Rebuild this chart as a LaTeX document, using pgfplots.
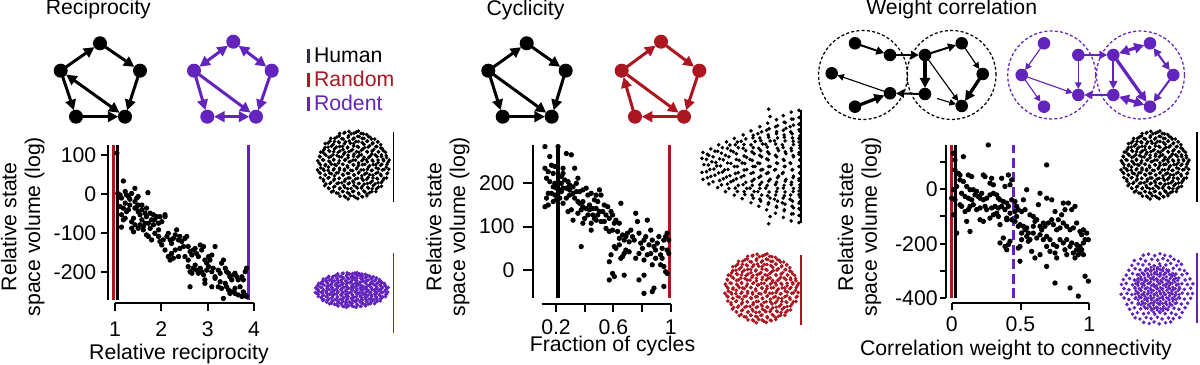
\documentclass[border=0pt]{standalone}
\usepackage{fontspec}
\setmainfont{Liberation Sans}
\usepackage{pgfplots}
\usepackage{pgfplotstable}
\pgfplotsset{compat=1.18}
\usetikzlibrary{arrows.meta}
\definecolor{myred}{RGB}{172,22,32}
\definecolor{mypurple}{RGB}{98,36,188}
\definecolor{humangray}{RGB}{50,52,62}

\pgfplotstableread[row sep=\\]{
x y\\
-0.37 0.90\\ -0.23 0.93\\ -0.06 0.89\\ 0.08 0.94\\ 0.21 0.90\\ 0.36 0.87\\
-0.61 0.76\\ -0.44 0.80\\ -0.31 0.75\\ -0.14 0.79\\ 0.02 0.77\\ 0.16 0.81\\ 0.29 0.76\\ 0.46 0.79\\ 0.58 0.74\\
-0.68 0.63\\ -0.51 0.67\\ -0.38 0.64\\ -0.21 0.66\\ -0.08 0.62\\ 0.07 0.67\\ 0.24 0.64\\ 0.37 0.68\\ 0.53 0.63\\ 0.66 0.66\\
-0.76 0.50\\ -0.59 0.54\\ -0.46 0.51\\ -0.29 0.53\\ -0.16 0.49\\ 0.01 0.54\\ 0.14 0.51\\ 0.31 0.50\\ 0.44 0.55\\ 0.61 0.52\\ 0.74 0.49\\
-0.83 0.37\\ -0.66 0.41\\ -0.53 0.38\\ -0.36 0.40\\ -0.23 0.36\\ -0.06 0.41\\ 0.09 0.38\\ 0.22 0.42\\ 0.38 0.37\\ 0.51 0.40\\ 0.68 0.38\\ 0.81 0.41\\
-0.91 0.25\\ -0.74 0.28\\ -0.61 0.24\\ -0.44 0.27\\ -0.31 0.23\\ -0.14 0.28\\ 0.01 0.25\\ 0.16 0.27\\ 0.29 0.22\\ 0.46 0.26\\ 0.59 0.29\\ 0.76 0.24\\ 0.89 0.27\\
-0.96 0.12\\ -0.83 0.15\\ -0.66 0.11\\ -0.53 0.14\\ -0.38 0.12\\ -0.21 0.15\\ -0.08 0.10\\ 0.06 0.14\\ 0.23 0.12\\ 0.36 0.15\\ 0.53 0.11\\ 0.67 0.14\\ 0.82 0.12\\ 0.97 0.14\\
-0.89 0.01\\ -0.76 -0.02\\ -0.59 0.02\\ -0.46 -0.01\\ -0.29 0.02\\ -0.16 -0.02\\ 0.00 0.01\\ 0.14 -0.01\\ 0.31 0.02\\ 0.44 -0.02\\ 0.61 0.01\\ 0.74 -0.01\\ 0.91 0.02\\
-0.97 -0.14\\ -0.81 -0.12\\ -0.68 -0.15\\ -0.52 -0.11\\ -0.37 -0.14\\ -0.24 -0.12\\ -0.07 -0.15\\ 0.09 -0.11\\ 0.21 -0.14\\ 0.38 -0.12\\ 0.51 -0.15\\ 0.68 -0.11\\ 0.83 -0.13\\ 0.96 -0.12\\
-0.89 -0.24\\ -0.76 -0.28\\ -0.59 -0.25\\ -0.46 -0.23\\ -0.29 -0.27\\ -0.16 -0.24\\ 0.02 -0.28\\ 0.14 -0.23\\ 0.31 -0.26\\ 0.44 -0.28\\ 0.61 -0.24\\ 0.74 -0.27\\ 0.91 -0.25\\
-0.81 -0.41\\ -0.68 -0.37\\ -0.51 -0.40\\ -0.38 -0.38\\ -0.22 -0.41\\ -0.09 -0.37\\ 0.06 -0.40\\ 0.23 -0.38\\ 0.36 -0.41\\ 0.53 -0.37\\ 0.66 -0.40\\ 0.83 -0.38\\
-0.74 -0.54\\ -0.61 -0.50\\ -0.44 -0.53\\ -0.31 -0.51\\ -0.14 -0.54\\ 0.01 -0.50\\ 0.16 -0.53\\ 0.29 -0.55\\ 0.46 -0.51\\ 0.59 -0.54\\ 0.76 -0.50\\
-0.66 -0.67\\ -0.53 -0.63\\ -0.36 -0.66\\ -0.23 -0.64\\ -0.06 -0.67\\ 0.08 -0.63\\ 0.22 -0.66\\ 0.39 -0.64\\ 0.51 -0.68\\ 0.68 -0.63\\
-0.59 -0.77\\ -0.46 -0.80\\ -0.29 -0.76\\ -0.16 -0.79\\ 0.01 -0.75\\ 0.14 -0.80\\ 0.31 -0.77\\ 0.44 -0.79\\ 0.61 -0.76\\
-0.36 -0.89\\ -0.21 -0.92\\ -0.08 -0.88\\ 0.06 -0.93\\ 0.23 -0.90\\ 0.37 -0.88\\
}\circtab

\pgfplotstableread[row sep=\\]{
x y\\
0.01 -0.22\\ 0.00 -0.10\\ 0.02 0.03\\ 0.00 0.14\\ 0.01 0.24\\
0.07 -0.30\\ 0.09 -0.17\\ 0.08 -0.05\\ 0.10 0.08\\ 0.07 0.19\\ 0.09 0.30\\
0.16 -0.36\\ 0.18 -0.24\\ 0.17 -0.11\\ 0.15 0.01\\ 0.18 0.13\\ 0.16 0.26\\ 0.17 0.37\\
0.24 -0.43\\ 0.26 -0.30\\ 0.25 -0.18\\ 0.23 -0.06\\ 0.26 0.06\\ 0.24 0.19\\ 0.26 0.31\\ 0.25 0.42\\
0.33 -0.49\\ 0.34 -0.37\\ 0.32 -0.24\\ 0.34 -0.12\\ 0.33 0.00\\ 0.35 0.12\\ 0.32 0.25\\ 0.34 0.37\\ 0.33 0.48\\
0.41 -0.55\\ 0.43 -0.43\\ 0.42 -0.31\\ 0.40 -0.18\\ 0.43 -0.06\\ 0.41 0.06\\ 0.43 0.18\\ 0.42 0.31\\ 0.40 0.43\\ 0.42 0.54\\
0.50 -0.62\\ 0.51 -0.49\\ 0.49 -0.37\\ 0.51 -0.25\\ 0.50 -0.12\\ 0.52 0.00\\ 0.49 0.12\\ 0.51 0.25\\ 0.50 0.37\\ 0.52 0.49\\ 0.50 0.61\\
0.58 -0.68\\ 0.59 -0.56\\ 0.57 -0.43\\ 0.59 -0.31\\ 0.58 -0.19\\ 0.60 -0.06\\ 0.57 0.06\\ 0.59 0.19\\ 0.58 0.31\\ 0.60 0.44\\ 0.57 0.56\\ 0.59 0.68\\
0.66 -0.74\\ 0.68 -0.62\\ 0.67 -0.50\\ 0.65 -0.37\\ 0.68 -0.25\\ 0.66 -0.12\\ 0.68 0.00\\ 0.66 0.13\\ 0.67 0.25\\ 0.65 0.38\\ 0.68 0.50\\ 0.66 0.62\\ 0.67 0.74\\
0.75 -0.80\\ 0.76 -0.68\\ 0.74 -0.56\\ 0.76 -0.43\\ 0.75 -0.31\\ 0.77 -0.19\\ 0.74 -0.06\\ 0.76 0.06\\ 0.75 0.19\\ 0.77 0.31\\ 0.74 0.44\\ 0.76 0.56\\ 0.75 0.68\\ 0.76 0.80\\
0.83 -0.87\\ 0.84 -0.74\\ 0.82 -0.62\\ 0.84 -0.50\\ 0.83 -0.37\\ 0.85 -0.25\\ 0.82 -0.12\\ 0.84 0.00\\ 0.83 0.12\\ 0.85 0.25\\ 0.82 0.37\\ 0.84 0.50\\ 0.83 0.62\\ 0.85 0.75\\ 0.83 0.87\\
0.91 -0.93\\ 0.93 -0.81\\ 0.92 -0.68\\ 0.90 -0.56\\ 0.93 -0.43\\ 0.91 -0.31\\ 0.93 -0.19\\ 0.92 -0.06\\ 0.90 0.06\\ 0.93 0.19\\ 0.91 0.31\\ 0.93 0.43\\ 0.92 0.56\\ 0.90 0.68\\ 0.93 0.81\\ 0.91 0.93\\
0.99 -0.96\\ 1.00 -0.84\\ 0.99 -0.72\\ 1.00 -0.60\\ 0.99 -0.48\\ 1.00 -0.36\\ 0.99 -0.24\\ 1.00 -0.12\\ 0.99 0.00\\ 1.00 0.12\\ 0.99 0.24\\ 1.00 0.36\\ 0.99 0.48\\ 1.00 0.60\\ 0.99 0.72\\ 1.00 0.84\\ 0.99 0.96\\
0.68 0.98\\ 0.68 -0.98\\
}\fantab

\tikzset{
 ar/.style={-{Triangle[length=4.2pt,width=4.2pt]}, line width=1.2pt, shorten >=2.7pt, shorten <=2.7pt},
 dar/.style={{Triangle[length=4.2pt,width=4.2pt]}-{Triangle[length=4.2pt,width=4.2pt]}, line width=1.2pt, shorten >=2.7pt, shorten <=2.7pt},
 tn/.style={-{Triangle[length=2.6pt,width=2.6pt]}, line width=0.45pt, shorten >=2.4pt, shorten <=2.4pt},
 md/.style={-{Triangle[length=3.2pt,width=3.2pt]}, line width=0.8pt, shorten >=2.4pt, shorten <=2.4pt},
 tk/.style={-{Triangle[length=4pt,width=4pt]}, line width=1.3pt, shorten >=2.4pt, shorten <=2.4pt},
 dmd/.style={{Triangle[length=3.2pt,width=3.2pt]}-{Triangle[length=3.2pt,width=3.2pt]}, line width=0.8pt, shorten >=2.4pt, shorten <=2.4pt},
 dtk/.style={{Triangle[length=4pt,width=4pt]}-{Triangle[length=4pt,width=4pt]}, line width=1.3pt, shorten >=2.4pt, shorten <=2.4pt},
}

\begin{document}
\begin{tikzpicture}[font=\fontsize{8.5}{10}\selectfont]
\useasboundingbox (0,0) rectangle (480pt,-146pt);
\pgfplotsset{
 mainax/.style={scale only axis, anchor=north west, axis x line=none, axis y line=left, clip=false, tick align=outside,
   y axis line style={-, line width=0.8pt}, ytick style={line width=0.8pt, black},
   yticklabel style={anchor=east, inner sep=0pt}, /pgf/number format/assume math mode=true,
   ylabel style={align=center, anchor=south, inner sep=0pt, font=\fontsize{8.5}{9.5}\selectfont}},
 xax/.style={scale only axis, anchor=south west, axis x line=bottom, axis y line=none, height=1pt, ymin=0, ymax=1, tick align=outside,
   x axis line style={-, line width=0.8pt}, xtick style={line width=0.8pt, black},
   xticklabel style={anchor=base, inner sep=0pt}, /pgf/number format/assume math mode=true,
   xlabel style={anchor=base, inner sep=0pt}},
 blob/.style={scale only axis, anchor=center, axis lines=none, clip=false, xmin=-1, xmax=1, ymin=-1, ymax=1},
 sc/.style={only marks, mark=*, mark size=0.85pt, black},
 bd/.style={only marks, mark=*, mark size=0.5pt},
}

% ---------- overlay: titles, legend, networks, bars ----------
\begin{axis}[at={(0pt,0pt)}, anchor=north west, scale only axis, width=480pt, height=146pt,
  xmin=0, xmax=1200, ymin=0, ymax=365, y dir=reverse, axis lines=none, clip=false]
\node[anchor=base, inner sep=0pt] at (axis cs:98.3,15) {Reciprocity};
\node[anchor=base, inner sep=0pt] at (axis cs:525.5,16) {Cyclicity};
\node[anchor=base, inner sep=0pt] at (axis cs:951.7,15) {Weight correlation};
% legend
\draw[humangray, line width=1.2pt] (axis cs:308,49) -- (axis cs:308,62.7);
\draw[myred, line width=1.2pt] (axis cs:308,73) -- (axis cs:308,86.7);
\draw[mypurple, line width=1.2pt] (axis cs:308,97.3) -- (axis cs:308,111);
\node[anchor=base west, inner sep=0pt] at (axis cs:313.5,62.7) {Human};
\node[anchor=base west, inner sep=0pt, text=myred] at (axis cs:313.5,86.7) {Random};
\node[anchor=base west, inner sep=0pt, text=mypurple] at (axis cs:313.5,111) {Rodent};
% side bars
\draw[black, line width=0.6pt] (axis cs:393.3,131.7) -- (axis cs:393.3,201.7);
\draw[mypurple, line width=0.6pt] (axis cs:393.3,253) -- (axis cs:393.3,333);
\draw[black, line width=0.6pt] (axis cs:801,110) -- (axis cs:801,223);
\draw[myred, line width=0.6pt] (axis cs:801,255) -- (axis cs:801,325);
\draw[black, line width=0.6pt] (axis cs:1197,131.7) -- (axis cs:1197,201.7);
\draw[mypurple, line width=0.6pt] (axis cs:1197,253) -- (axis cs:1197,323);
% panel 1 black pentagon
\draw[ar] (axis cs:60.7,70.7) -- (axis cs:100,43.3);
\draw[ar] (axis cs:100,43.3) -- (axis cs:140,70.7);
\draw[ar] (axis cs:140,70.7) -- (axis cs:125,116.7);
\draw[ar] (axis cs:60.7,70.7) -- (axis cs:76,116.7);
\draw[ar] (axis cs:76,116.7) -- (axis cs:125,116.7);
\draw[dar] (axis cs:60.7,70.7) -- (axis cs:125,116.7);
\addplot[only marks, mark=*, mark size=2.6pt, black] coordinates {(100,43.3) (140,70.7) (125,116.7) (76,116.7) (60.7,70.7)};
% panel 1 purple pentagon
\draw[dar, mypurple] (axis cs:233.3,41.7) -- (axis cs:194,70.7);
\draw[dar, mypurple] (axis cs:233.3,41.7) -- (axis cs:271.7,70.7);
\draw[ar, mypurple] (axis cs:194,70.7) -- (axis cs:207.3,116.7);
\draw[ar, mypurple] (axis cs:194,70.7) -- (axis cs:256,116.7);
\draw[ar, mypurple] (axis cs:271.7,70.7) -- (axis cs:256,116.7);
\draw[dar, mypurple] (axis cs:207.3,116.7) -- (axis cs:256,116.7);
\addplot[only marks, mark=*, mark size=2.6pt, mypurple] coordinates {(233.3,41.7) (271.7,70.7) (256,116.7) (207.3,116.7) (194,70.7)};
% panel 2 black pentagon
\draw[ar] (axis cs:488.3,70.7) -- (axis cs:526.7,43.3);
\draw[ar] (axis cs:526.7,43.3) -- (axis cs:565.7,70.7);
\draw[ar] (axis cs:565.7,70.7) -- (axis cs:551.7,116.7);
\draw[ar] (axis cs:488.3,70.7) -- (axis cs:502.7,116.7);
\draw[ar] (axis cs:502.7,116.7) -- (axis cs:551.7,116.7);
\draw[ar] (axis cs:488.3,70.7) -- (axis cs:551.7,116.7);
\addplot[only marks, mark=*, mark size=2.6pt, black] coordinates {(526.7,43.3) (565.7,70.7) (551.7,116.7) (502.7,116.7) (488.3,70.7)};
% panel 2 red pentagon
\draw[ar, myred] (axis cs:621.7,70.7) -- (axis cs:661,41.7);
\draw[ar, myred] (axis cs:661,41.7) -- (axis cs:699.3,70.7);
\draw[ar, myred] (axis cs:699.3,70.7) -- (axis cs:684,116.7);
\draw[ar, myred] (axis cs:684,116.7) -- (axis cs:635,116.7);
\draw[ar, myred] (axis cs:635,116.7) -- (axis cs:621.7,70.7);
\draw[ar, myred] (axis cs:621.7,70.7) -- (axis cs:684,116.7);
\addplot[only marks, mark=*, mark size=2.6pt, myred] coordinates {(661,41.7) (699.3,70.7) (684,116.7) (635,116.7) (621.7,70.7)};
% panel 3 black modules
\draw[black, line width=0.5pt, dash pattern=on 1.2pt off 0.9pt] (axis cs:863,75) circle[radius=17.8pt];
\draw[black, line width=0.5pt, dash pattern=on 1.2pt off 0.9pt] (axis cs:951.5,75) circle[radius=17.8pt];
\draw[md] (axis cs:855,43.3) -- (axis cs:890,55);
\draw[md] (axis cs:890,55) -- (axis cs:925,55);
\draw[md] (axis cs:925,55) -- (axis cs:961.7,43.3);
\draw[tn] (axis cs:961.7,43.3) -- (axis cs:982.7,74);
\draw[tk] (axis cs:982.7,74) -- (axis cs:961.7,106);
\draw[tk] (axis cs:925,55) -- (axis cs:925,94);
\draw[tn] (axis cs:925,55) -- (axis cs:961.7,106);
\draw[md] (axis cs:925,94) -- (axis cs:890,93.3);
\draw[tn] (axis cs:890,93.3) -- (axis cs:831.7,73.3);
\draw[tk] (axis cs:855,106.7) -- (axis cs:890,93.3);
\draw[tn, shorten <=0pt] (axis cs:937,98.5) -- (axis cs:961.7,106);
\addplot[only marks, mark=*, mark size=2.3pt, black] coordinates {(855,43.3) (890,55) (831.7,73.3) (890,93.3) (855,106.7) (925,55) (961.7,43.3) (982.7,74) (961.7,106) (925,94)};
% panel 3 purple modules
\draw[mypurple, line width=0.5pt, dash pattern=on 1.2pt off 0.9pt] (axis cs:1051.7,75) circle[radius=17.6pt];
\draw[mypurple, line width=0.5pt, dash pattern=on 1.2pt off 0.9pt] (axis cs:1140.5,75) circle[radius=17.6pt];
\draw[tn, mypurple] (axis cs:1044,43.3) -- (axis cs:1021.7,75);
\draw[md, mypurple] (axis cs:1078.3,55) -- (axis cs:1113.3,55);
\draw[tn, mypurple] (axis cs:1078.3,55) -- (axis cs:1078.3,95);
\draw[tn, mypurple] (axis cs:1021.7,75) -- (axis cs:1078.3,95);
\draw[tn, mypurple] (axis cs:1021.7,75) -- (axis cs:1044,106.7);
\draw[md, mypurple] (axis cs:1113.3,95) -- (axis cs:1078.3,95);
\draw[dtk, mypurple] (axis cs:1113.3,55) -- (axis cs:1150,43.3);
\draw[dmd, mypurple] (axis cs:1150,43.3) -- (axis cs:1173.3,75);
\draw[md, mypurple] (axis cs:1173.3,75) -- (axis cs:1150,106.7);
\draw[md, mypurple] (axis cs:1113.3,55) -- (axis cs:1113.3,95);
\draw[tk, mypurple] (axis cs:1113.3,55) -- (axis cs:1150,106.7);
\draw[dtk, mypurple] (axis cs:1113.3,95) -- (axis cs:1150,106.7);
\addplot[only marks, mark=*, mark size=2.3pt, mypurple] coordinates {(1044,43.3) (1078.3,55) (1021.7,75) (1078.3,95) (1044,106.7) (1113.3,55) (1150,43.3) (1173.3,75) (1150,106.7) (1113.3,95)};
\end{axis}

% ---------- blobs ----------
\begin{axis}[blob, at={(141.32pt,-66pt)}, width=29.6pt, height=28pt]
\addplot[bd, black] table {\circtab};
\addplot[bd, black] table[x=y, y=x] {\circtab};
\end{axis}
\begin{axis}[blob, at={(140.68pt,-116pt)}, width=30pt, height=14.4pt]
\addplot[bd, mypurple] table {\circtab};
\addplot[bd, mypurple] table[x=y, y=x] {\circtab};
\end{axis}
\begin{axis}[blob, anchor=north west, at={(280.8pt,-43.2pt)}, width=39.2pt, height=46.8pt, xmin=0, xmax=1]
\addplot[bd, black] table {\fantab};
\end{axis}
\begin{axis}[blob, anchor=north west, at={(282.6pt,-46.2pt)}, width=37.4pt, height=40.8pt, xmin=0, xmax=1]
\addplot[bd, black] table {\fantab};
\end{axis}
\begin{axis}[blob, at={(304.68pt,-115.32pt)}, width=30.4pt, height=28.4pt]
\addplot[bd, myred] table {\circtab};
\addplot[bd, myred] table[x=y, y=x] {\circtab};
\end{axis}
\begin{axis}[blob, at={(462pt,-66pt)}, width=28pt, height=28pt]
\addplot[bd, black] table {\circtab};
\addplot[bd, black] table[x=y, y=x] {\circtab};
\end{axis}
\begin{axis}[blob, at={(462.8pt,-115.6pt)}, width=29.6pt, height=30pt]
\addplot[bd, mypurple] table {\circtab};
\end{axis}
\begin{axis}[blob, at={(462.8pt,-115.6pt)}, width=19pt, height=19pt]
\addplot[only marks, mark=*, mark size=0.42pt, mypurple] table[x=y, y=x] {\circtab};
\end{axis}

% ---------- Panel 1: reciprocity ----------
\begin{axis}[mainax, at={(43.2pt,-58pt)}, width=58.4pt, height=62pt,
  xmin=0.849, xmax=4, ymin=-273, ymax=127,
  ytick={-200,-100,0,100}, yticklabels={-200,-100,0,100}, major tick length=2.7pt,
  yticklabel style={xshift=-1.8pt},
  ylabel={Relative state\\space volume (log)},
  ylabel style={at={(axis description cs:-0.4315,0.473)}}]
\addplot[myred, line width=1.3pt] coordinates {(0.96,-273) (0.96,127)};
\addplot[black, line width=1.3pt] coordinates {(1.05,-273) (1.05,127)};
\addplot[mypurple, line width=1.3pt] coordinates {(3.88,-273) (3.88,127)};
\addplot[sc] coordinates {
(1.04,106)(1.18,34)(1.06,2)(1.11,-2)(1.07,-8)(1.14,-10)(1.22,7)(1.25,-2)(1.29,-6)(1.32,-13)(1.36,2)(1.43,15)(1.47,-10)(1.50,-6)(1.71,4)(1.11,-32)(1.14,-53)(1.18,-66)(1.22,-62)(1.14,-85)(1.25,-45)(1.29,-40)(1.36,-71)(1.40,-62)(1.43,-36)(1.47,-32)(1.50,-45)(1.54,-53)(1.58,-28)(1.58,-66)(1.61,-84)(1.65,-75)(1.68,-36)(1.68,-58)(1.72,-75)(1.76,-88)(1.79,-66)(1.83,-79)(1.86,-66)(1.90,-58)(1.94,-75)(1.94,-92)(2.01,-71)(2.08,-53)(2.04,-118)(2.12,-109)(2.15,-101)(2.19,-118)(2.22,-127)(2.26,-114)(2.30,-105)(2.33,-92)(2.37,-118)(2.40,-109)(2.44,-122)(2.48,-135)(2.51,-114)(2.55,-109)(2.22,-153)(2.15,-161)(2.19,-170)(2.26,-165)(2.08,-144)(2.30,-144)(2.58,-135)(2.62,-148)(2.66,-157)(2.69,-144)(2.73,-140)(2.76,-153)(2.80,-161)(2.84,-131)(2.87,-144)(2.91,-135)(2.94,-170)(2.98,-178)(3.02,-161)(3.05,-170)(3.09,-157)(3.16,-135)(2.58,-187)(2.62,-200)(2.66,-204)(2.69,-191)(2.73,-183)(2.76,-196)(2.80,-204)(2.84,-191)(2.87,-200)(2.91,-208)(2.94,-221)(2.98,-196)(3.02,-187)(3.09,-200)(3.12,-191)(3.16,-213)(3.23,-196)(3.27,-204)(3.30,-178)(3.34,-170)(3.38,-191)(3.41,-200)(3.45,-204)(3.48,-213)(3.52,-221)(3.56,-208)(3.59,-204)(3.63,-213)(3.66,-221)(3.74,-213)(3.77,-221)(3.81,-200)(3.84,-191)(3.38,-230)(3.41,-239)(3.45,-247)(3.52,-252)(3.59,-256)(3.66,-260)(3.74,-264)(3.81,-260)(3.84,-264)(3.23,-239)(3.30,-243)(3.09,-239)(2.94,-230)(2.62,-239)(3.34,-269)(3.48,-256)(3.59,-243)(3.70,-239)(3.77,-252)(3.16,-217)(3.27,-226)(2.51,-161)(2.58,-170)(2.40,-140)(2.37,-161)(1.97,-122)(2.01,-131)(1.94,-109)(1.86,-101)(1.79,-118)(1.72,-109)(1.68,-105)(1.61,-92)(1.54,-79)(1.50,-88)(1.43,-79)(1.36,-88)(1.40,-97)(1.22,-23)(1.58,-40)(1.65,-49)(1.76,-49)(1.83,-53)(1.97,-58)(2.08,-58)(1.18,-36)(1.32,-28)(1.43,-19)(1.50,-28)
};
\end{axis}
\begin{axis}[xax, at={(46pt,-121.2pt)}, width=55.6pt, xmin=1, xmax=4,
  xtick={1,2,3,4}, xticklabels={1,2,3,4}, major tick length=3.2pt,
  xticklabel style={yshift=-10.3pt},
  xlabel={Relative reciprocity}, xlabel style={at={(axis description cs:0.46,0)}, yshift=-22.5pt}]
\end{axis}

% ---------- Panel 2: cyclicity ----------
\begin{axis}[mainax, at={(213.32pt,-58pt)}, width=54.96pt, height=61.2pt,
  xmin=0.0375, xmax=1, ymin=-64.7, ymax=288.7,
  ytick={0,100,200}, yticklabels={0,100,200}, major tick length=4pt,
  yticklabel style={xshift=-3.3pt},
  ylabel={Relative state\\space volume (log)},
  ylabel style={at={(axis description cs:-0.461,0.466)}}]
\addplot[black, line width=1.3pt] coordinates {(0.211,-64.7) (0.211,288.7)};
\addplot[myred, line width=1.3pt] coordinates {(0.99,-64.7) (0.99,288.7)};
\addplot[sc] coordinates {
(0.119,285)(0.211,285)(0.269,269)(0.304,266)(0.153,262)(0.165,242)(0.188,239)(0.119,235)(0.142,227)(0.177,223)(0.246,235)(0.246,223)(0.234,216)(0.327,235)(0.130,212)(0.153,204)(0.188,200)(0.211,204)(0.234,200)(0.258,208)(0.281,204)(0.292,196)(0.316,192)(0.350,212)(0.339,200)(0.165,177)(0.188,173)(0.211,177)(0.234,181)(0.142,177)(0.130,166)(0.119,146)(0.142,150)(0.177,158)(0.200,162)(0.223,166)(0.246,154)(0.269,166)(0.292,173)(0.316,177)(0.339,181)(0.362,181)(0.385,185)(0.408,189)(0.420,173)(0.443,177)(0.466,162)(0.489,158)(0.501,185)(0.512,173)(0.431,150)(0.454,142)(0.478,142)(0.501,135)(0.524,135)(0.362,154)(0.385,146)(0.408,142)(0.431,139)(0.304,139)(0.316,115)(0.281,135)(0.350,131)(0.373,139)(0.385,108)(0.397,119)(0.420,127)(0.443,108)(0.443,92)(0.466,119)(0.489,127)(0.512,112)(0.535,112)(0.547,127)(0.570,119)(0.582,135)(0.593,127)(0.605,108)(0.616,115)(0.640,108)(0.651,154)(0.547,96)(0.570,89)(0.593,92)(0.628,89)(0.640,73)(0.663,81)(0.674,69)(0.686,77)(0.697,85)(0.709,65)(0.721,92)(0.732,77)(0.744,69)(0.755,131)(0.767,112)(0.778,85)(0.790,62)(0.802,50)(0.813,69)(0.825,77)(0.836,115)(0.848,58)(0.860,92)(0.860,38)(0.871,69)(0.883,54)(0.894,46)(0.906,62)(0.917,77)(0.929,35)(0.940,50)(0.952,69)(0.964,77)(0.975,85)(0.987,69)(0.975,46)(0.940,27)(0.929,12)(0.952,8)(0.987,38)(0.964,-4)(0.894,27)(0.871,12)(0.836,35)(0.813,23)(0.778,38)(0.755,27)(0.709,42)(0.686,46)(0.640,58)(0.616,50)(0.605,54)(0.674,38)(0.651,27)(0.582,35)(0.570,19)(0.663,31)(0.373,54)(0.593,-8)(0.605,-15)(0.570,-23)(0.674,-12)(0.813,-12)(0.778,-23)(0.813,-54)(0.883,-42)(0.871,-50)(0.952,-38)(0.975,-8)(0.292,185)(0.269,189)(0.246,189)(0.223,185)(0.200,189)(0.177,192)(0.327,166)(0.350,158)(0.385,158)(0.478,173)(0.535,150)(0.559,146)(0.478,115)(0.454,127)
};
\end{axis}
\begin{axis}[xax, at={(216.68pt,-121.6pt)}, width=51.6pt, xmin=0.1, xmax=1,
  xtick={0.2,0.4,0.6,0.8,1}, xticklabels={0.2,,0.6,,1}, major tick length=3.1pt,
  xticklabel style={yshift=-9pt},
  xlabel={Fraction of cycles}, xlabel style={at={(axis description cs:0.549,0)}, yshift=-19.1pt}]
\end{axis}

% ---------- Panel 3: weight correlation ----------
\begin{axis}[mainax, at={(378.28pt,-58pt)}, width=57.44pt, height=61.32pt,
  xmin=-0.0436, xmax=1, ymin=-400, ymax=162,
  ytick={-400,-300,-200,-100,0,100}, yticklabels={-400,,-200,,0,}, major tick length=2.3pt,
  yticklabel style={xshift=-0.7pt},
  ylabel={Relative state\\space volume (log)},
  ylabel style={at={(axis description cs:-0.4457,0.467)}}]
\addplot[myred, line width=1.3pt] coordinates {(0.0,-400) (0.0,162)};
\addplot[black, line width=1.3pt] coordinates {(0.03,-400) (0.03,162)};
\addplot[mypurple, line width=1.3pt, dash pattern=on 4pt off 1.8pt] coordinates {(0.45,-400) (0.45,162)};
\addplot[sc] coordinates {
(0.266,162)(0.012,132)(0.085,119)(0.024,107)(0.024,71)(0.048,58)(0.060,52)(0.060,34)(0.036,10)(0.012,-2)(0.00,-33)(0.024,-39)(0.012,-94)(0.036,-161)(0.690,89)(0.121,52)(0.145,46)(0.230,52)(0.242,46)(0.290,40)(0.363,40)(0.412,52)(0.436,34)(0.424,16)(0.387,10)(0.303,16)(0.278,22)(0.085,28)(0.109,10)(0.133,-2)(0.157,-2)(0.181,-8)(0.072,-15)(0.097,-27)(0.121,-33)(0.145,-39)(0.169,-21)(0.194,-27)(0.206,-33)(0.218,-15)(0.230,-39)(0.254,-33)(0.278,-21)(0.303,-15)(0.327,-21)(0.339,-33)(0.351,-39)(0.375,-45)(0.400,-51)(0.412,-63)(0.436,-39)(0.460,-45)(0.472,-63)(0.060,-57)(0.072,-63)(0.097,-82)(0.121,-75)(0.133,-63)(0.157,-57)(0.181,-75)(0.206,-69)(0.242,-63)(0.254,-75)(0.290,-69)(0.315,-63)(0.339,-69)(0.363,-63)(0.387,-75)(0.424,-88)(0.460,-82)(0.472,-100)(0.484,-75)(0.508,-82)(0.533,-75)(0.545,-2)(0.521,-39)(0.569,-94)(0.593,-100)(0.618,-112)(0.630,-57)(0.642,-15)(0.666,-124)(0.690,-33)(0.727,-39)(0.751,-82)(0.775,-112)(0.799,-94)(0.811,-51)(0.823,-75)(0.848,-51)(0.872,-75)(0.896,-63)(0.109,-118)(0.206,-112)(0.230,-118)(0.278,-106)(0.303,-94)(0.339,-100)(0.400,-106)(0.436,-112)(0.460,-118)(0.496,-130)(0.521,-136)(0.533,-149)(0.484,-136)(0.508,-161)(0.545,-142)(0.557,-161)(0.593,-136)(0.605,-118)(0.642,-136)(0.654,-149)(0.678,-136)(0.702,-124)(0.727,-112)(0.739,-130)(0.763,-149)(0.787,-142)(0.811,-124)(0.836,-136)(0.860,-149)(0.884,-142)(0.908,-124)(0.932,-155)(0.945,-167)(0.957,-149)(0.981,-161)(0.969,-185)(0.993,-185)(0.957,-197)(0.932,-210)(0.908,-222)(0.884,-234)(0.920,-240)(0.896,-252)(0.860,-210)(0.836,-185)(0.811,-197)(0.787,-185)(0.763,-210)(0.739,-203)(0.714,-185)(0.690,-173)(0.666,-185)(0.642,-167)(0.618,-179)(0.593,-161)(0.569,-185)(0.545,-173)(0.508,-185)(0.496,-210)(0.484,-216)(0.412,-203)(0.387,-210)(0.351,-197)(0.375,-179)(0.400,-222)(0.424,-191)(0.496,-264)(0.557,-191)(0.581,-228)(0.605,-252)(0.642,-240)(0.690,-210)(0.714,-228)(0.751,-234)(0.763,-252)(0.823,-222)(0.836,-240)(0.872,-197)(0.908,-203)(0.945,-222)(0.133,-155)(0.690,-283)(0.751,-344)(0.860,-362)(0.920,-392)(0.969,-319)(0.993,-337)(0.932,-228)(0.957,-240)(0.400,-112)(0.351,-130)(0.327,-88)
};
\end{axis}
\begin{axis}[xax, at={(380.68pt,-121.32pt)}, width=55.04pt, xmin=0, xmax=1,
  xtick={0,0.5,1}, xticklabels={0,0.5,1}, major tick length=2.7pt,
  xticklabel style={yshift=-8.7pt},
  xlabel={Correlation weight to connectivity}, xlabel style={at={(axis description cs:0.467,0)}, yshift=-20.7pt}]
\end{axis}
\end{tikzpicture}
\end{document}
